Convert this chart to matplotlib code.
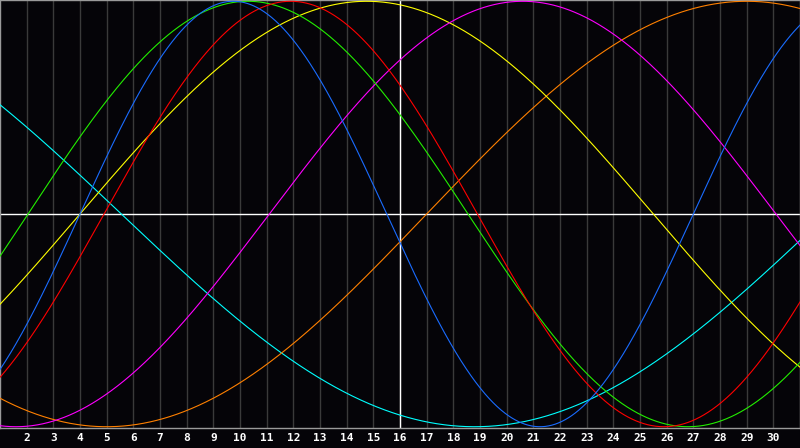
import numpy as np
import matplotlib
matplotlib.use("Agg")
import matplotlib.pyplot as plt

# days shown on the chart, today = 16
days = list(range(1, 32))
tick_days = list(range(2, 31))
today = 16

# cycles: name, period (days), day of the peak
cycle_names = ['physical', 'emotional', 'intellectual', 'intuitive',
               'aesthetic', 'awareness', 'spiritual']
periods = [23, 28, 33, 38, 43, 48, 53]
peak_days = [9.75, 11.9, 10.3, 20.6, 14.75, 29.0, 45.3]
colors = ['#1a6cff', '#ff0000', '#22ee00', '#ff00ff', '#ffff00', '#ff8000', '#00ffff']

bg = '#050408'

fig = plt.figure(figsize=(8, 4.48), dpi=100, facecolor=bg)
ax = fig.add_axes([0, 20 / 448, 1, 428 / 448])
ax.set_facecolor(bg)

t = np.linspace(days[0], days[-1], 1200)
for d in days[1:-1]:
    ax.axvline(d, color='#3a3a3a', lw=1.0, zorder=1)
ax.axhline(0, color='white', lw=1.0, zorder=2)
ax.axvline(today, color='white', lw=1.0, zorder=2)

order = [6, 5, 4, 3, 2, 1, 0]
for i in order:
    y = np.cos(2 * np.pi * (t - peak_days[i]) / periods[i])
    ax.plot(t, y, color=colors[i], lw=0.8, zorder=3)

ax.set_xlim(days[0], days[-1])
ax.set_ylim(-1.006, 1.006)
ax.set_yticks([])
ax.set_xticks(tick_days)
ax.set_xticklabels([str(d) for d in tick_days], color='white',
                   fontsize=8, fontweight='bold', family='DejaVu Sans Mono')
ax.tick_params(axis='x', length=0, pad=3.5)
for s in ax.spines.values():
    s.set_color('#9a9a9a')
    s.set_linewidth(1.0)

fig.savefig('out.png', dpi=100, facecolor=bg)
